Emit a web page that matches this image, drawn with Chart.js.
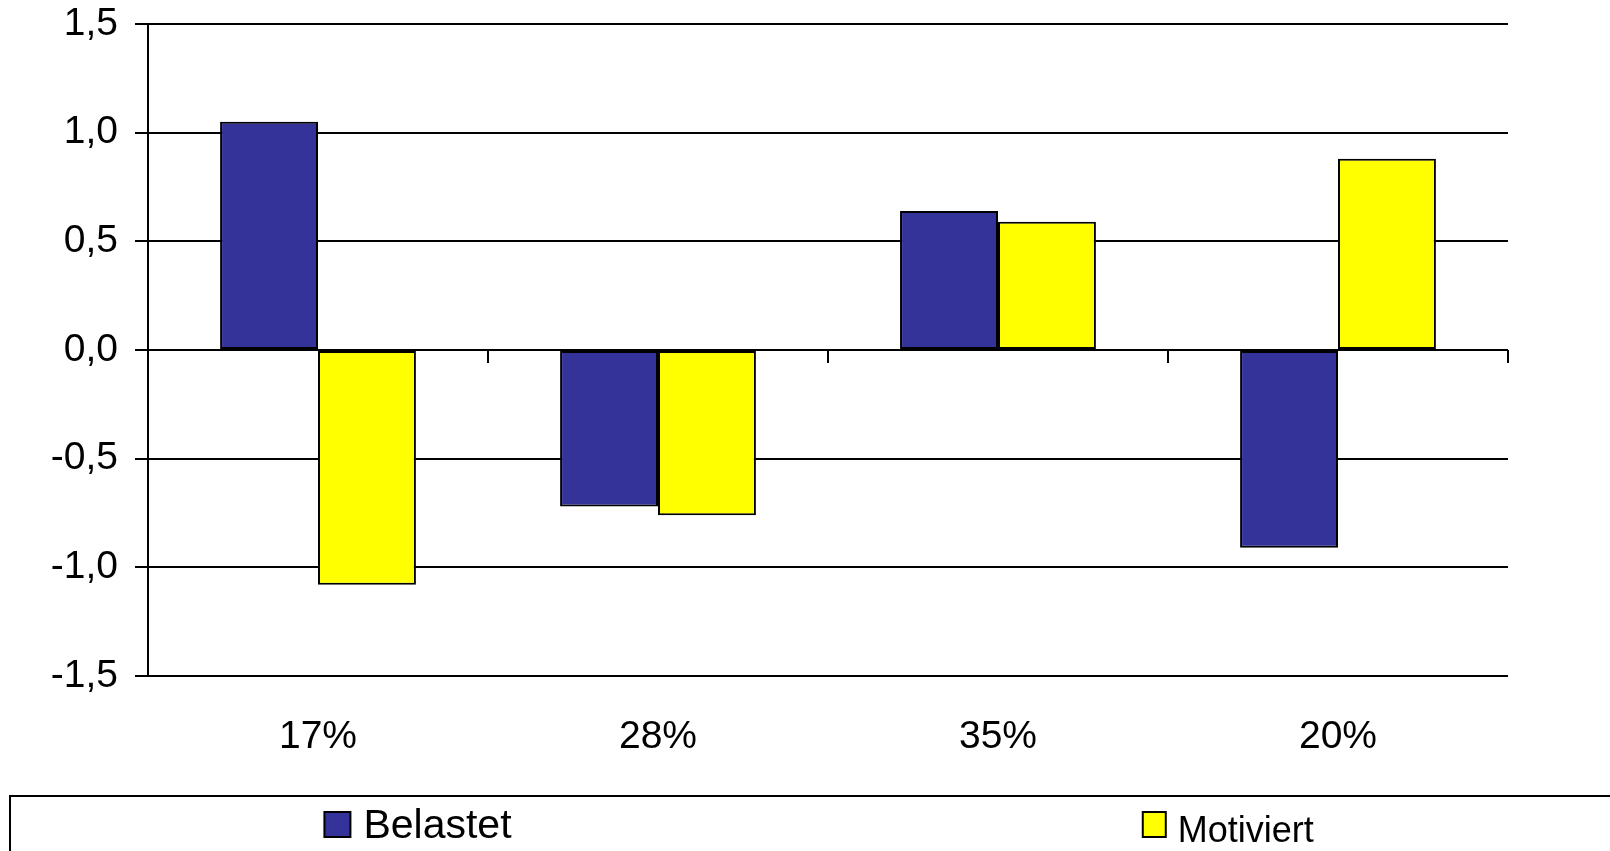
<!DOCTYPE html>
<html lang="de">
<head>
<meta charset="utf-8">
<title>Belastet / Motiviert</title>
<script src="https://cdn.jsdelivr.net/npm/chart.js@4/dist/chart.umd.min.js"></script>
<style>
  html, body { margin: 0; padding: 0; background: #ffffff; }
  canvas { display: block; }
</style>
</head>
<body>
<canvas id="chart" width="1610" height="851"></canvas>
<script>
// Group shares shown as category labels
const categories = ['17%', '28%', '35%', '20%'];

// Mean values per group
const belastet = [1.05, -0.72, 0.64, -0.91];
const motiviert = [-1.08, -0.76, 0.59, 0.88];

// Value axis ticks
const yTicks = [-1.5, -1.0, -0.5, 0.0, 0.5, 1.0, 1.5];

const FONT = '"Liberation Sans", Arial, Helvetica, sans-serif';

// Short tick marks on the zero line between categories
const zeroLineTicks = {
  id: 'zeroLineTicks',
  afterDatasetsDraw(chart) {
    const x = chart.scales.x, y = chart.scales.y;
    const ctx = chart.ctx;
    const y0 = Math.round(y.getPixelForValue(0));
    const n = chart.data.labels.length;
    const half = (x.getPixelForValue(1) - x.getPixelForValue(0)) / 2;
    ctx.save();
    ctx.strokeStyle = '#000';
    ctx.lineWidth = 2;
    ctx.beginPath();
    ctx.moveTo(chart.chartArea.left, y0);
    ctx.lineTo(chart.chartArea.right, y0);
    for (let i = 0; i < n; i++) {
      const bx = Math.round(x.getPixelForValue(i) + half);
      ctx.moveTo(bx, y0);
      ctx.lineTo(bx, y0 + 13);
    }
    ctx.stroke();
    ctx.restore();
  }
};

// Boxed legend along the bottom edge
const boxLegend = {
  id: 'boxLegend',
  afterDraw(chart, args, opts) {
    const ctx = chart.ctx;
    const W = chart.width;
    ctx.save();
    ctx.strokeStyle = '#000';
    ctx.lineWidth = 2;
    ctx.strokeRect(opts.left, opts.top, W + 100, 200);
    chart.data.datasets.forEach((ds, i) => {
      const item = opts.items[i];
      const sx = W * item.at;
      ctx.fillStyle = ds.backgroundColor;
      ctx.fillRect(sx, item.swatchTop, item.swatchW, 25);
      ctx.lineWidth = 2;
      ctx.strokeStyle = '#000';
      ctx.strokeRect(sx, item.swatchTop, item.swatchW, 25);
      ctx.fillStyle = '#000';
      ctx.font = item.size + 'px ' + FONT;
      ctx.textAlign = 'left';
      ctx.textBaseline = 'alphabetic';
      ctx.fillText(ds.label, sx + item.gap, item.baseline);
    });
    ctx.restore();
  }
};

new Chart(document.getElementById('chart'), {
  type: 'bar',
  data: {
    labels: categories,
    datasets: [
      {
        label: 'Belastet',
        data: belastet,
        backgroundColor: '#333399',
        borderColor: '#000000',
        borderWidth: 2,
        borderSkipped: false
      },
      {
        label: 'Motiviert',
        data: motiviert,
        backgroundColor: '#FFFF00',
        borderColor: '#000000',
        borderWidth: 2,
        borderSkipped: false
      }
    ]
  },
  options: {
    responsive: false,
    animation: false,
    devicePixelRatio: 1,
    layout: { padding: { left: 0, top: 24, right: 102, bottom: 0 } },
    datasets: {
      bar: { categoryPercentage: 0.576, barPercentage: 1.0 }
    },
    plugins: {
      legend: { display: false },
      tooltip: { enabled: false },
      boxLegend: {
        left: 10,
        top: 796,
        items: [
          { at: 0.2015, swatchTop: 812, swatchW: 26, gap: 39, baseline: 838, size: 41 },
          { at: 0.7098, swatchTop: 812, swatchW: 23, gap: 35, baseline: 842, size: 36 }
        ]
      }
    },
    scales: {
      x: {
        position: 'bottom',
        grid: { display: false, drawTicks: false },
        border: { display: false },
        ticks: {
          color: '#000',
          padding: 38,
          maxRotation: 0,
          font: { family: FONT, size: 39 }
        },
        afterFit(scale) {
          scale.height = 175;
          scale.paddingLeft = 0;
          scale.paddingRight = 0;
        }
      },
      y: {
        min: -1.5,
        max: 1.5,
        afterBuildTicks(scale) {
          scale.ticks = yTicks.map(v => ({ value: v }));
        },
        grid: {
          color: '#000',
          lineWidth: 2,
          drawTicks: true,
          tickLength: 13,
          tickColor: '#000'
        },
        border: { display: true, color: '#000', width: 2 },
        ticks: {
          color: '#000',
          padding: 17,
          font: { family: FONT, size: 39 },
          callback(value) { return value.toFixed(1).replace('.', ','); }
        },
        afterFit(scale) {
          scale.width = 148;
          scale.paddingTop = 0;
          scale.paddingBottom = 0;
        }
      }
    }
  },
  plugins: [zeroLineTicks, boxLegend]
});
</script>
</body>
</html>
